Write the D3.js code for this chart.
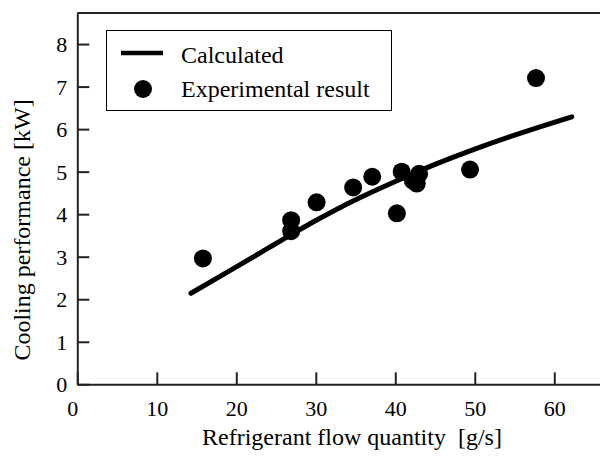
<!DOCTYPE html>
<html>
<head>
<meta charset="utf-8">
<script src="https://cdn.jsdelivr.net/npm/d3@7"></script>
<style>
  body { margin: 0; background: #fff; }
  svg text { font-family: "Liberation Serif", Tinos, "Times New Roman", Times, "DejaVu Serif", serif; fill: #000; }
</style>
</head>
<body>
<svg id="chart" width="600" height="456"></svg>
<script>
// Calculated curve (flow g/s, cooling kW)
const calcFlow = [14.3, 20, 25, 30, 35, 40, 45, 50, 55, 62.2];
const calcPerf = [2.14, 2.76, 3.31, 3.85, 4.34, 4.77, 5.17, 5.53, 5.86, 6.29];
// Experimental points
const expFlow = [15.8, 26.9, 26.9, 30.1, 34.7, 37.1, 40.2, 40.8, 42.2, 43.0, 42.7, 49.4, 57.7];
const expPerf = [2.96, 3.86, 3.60, 4.28, 4.63, 4.88, 4.02, 5.00, 4.79, 4.95, 4.72, 5.05, 7.20];
const xTicks = [0, 10, 20, 30, 40, 50, 60];
const yTicks = [0, 1, 2, 3, 4, 5, 6, 7, 8];
const legendLabels = ["Calculated", "Experimental result"];

const FONT = "'Liberation Serif', Tinos, 'Times New Roman', Times, 'DejaVu Serif', serif";
const svg = d3.select("#chart");
const x = d3.scaleLinear().domain([0, 65.75]).range([77.3, 600]);
const y = d3.scaleLinear().domain([0, 8.73]).range([384.3, 13]);

// frame
const axisColor = "#222";
svg.append("line").attr("x1", x(0)).attr("x2", 600).attr("y1", y(8.73)).attr("y2", y(8.73))
  .attr("stroke", axisColor).attr("stroke-width", 2);

const xAxis = svg.append("g").attr("transform", `translate(0,${y(0)})`)
  .call(d3.axisBottom(x).tickValues(xTicks).tickSizeInner(-12).tickSizeOuter(0).tickPadding(16).tickFormat(d3.format("d")));
const yAxis = svg.append("g").attr("transform", `translate(${x(0)},0)`)
  .call(d3.axisLeft(y).tickValues(yTicks).tickSizeInner(-12).tickSizeOuter(0).tickPadding(10).tickFormat(d3.format("d")));

[xAxis, yAxis].forEach(g => {
  g.attr("font-family", FONT).attr("font-size", 22);
  g.select(".domain").attr("stroke", axisColor).attr("stroke-width", 2);
  g.selectAll(".tick line").attr("stroke", axisColor).attr("stroke-width", 2);
  g.selectAll(".tick text").style("font-family", FONT).style("font-size", "22px").attr("fill", "#000");
});
xAxis.selectAll(".tick text").filter(d => d === 0).attr("dx", -5);
yAxis.selectAll(".tick text").attr("dy", "0.34em");

// calculated line
const pts = calcFlow.map((f, i) => [f, calcPerf[i]]);
svg.append("path").datum(pts)
  .attr("d", d3.line().x(d => x(d[0])).y(d => y(d[1])).curve(d3.curveCatmullRom))
  .attr("fill", "none").attr("stroke", "#000").attr("stroke-width", 5).attr("stroke-linecap", "round");

// experimental points
svg.append("g").selectAll("circle").data(expFlow.map((f, i) => [f, expPerf[i]]))
  .join("circle").attr("cx", d => x(d[0])).attr("cy", d => y(d[1])).attr("r", 9).attr("fill", "#000");

// legend
const lg = svg.append("g");
lg.append("rect").attr("x", 106.5).attr("y", 30.5).attr("width", 285).attr("height", 80)
  .attr("fill", "#fff").attr("stroke", "#000").attr("stroke-width", 1);
lg.append("line").attr("x1", 121).attr("x2", 163).attr("y1", 53).attr("y2", 53)
  .attr("stroke", "#000").attr("stroke-width", 4.5);
lg.append("circle").attr("cx", 143).attr("cy", 89).attr("r", 9).attr("fill", "#000");
lg.append("text").attr("x", 181).attr("y", 63).style("font-family", FONT).style("font-size", "24px").text(legendLabels[0]);
lg.append("text").attr("x", 181).attr("y", 97).style("font-family", FONT).style("font-size", "24px").text(legendLabels[1]);

// axis titles
svg.append("text").attr("x", 352).attr("y", 445).attr("text-anchor", "middle")
  .style("font-family", FONT).style("font-size", "24px").style("white-space", "pre")
  .text("Refrigerant flow quantity\u00a0 [g/s]");
svg.append("text").attr("transform", "translate(30,230) rotate(-90)").attr("text-anchor", "middle")
  .style("font-family", FONT).style("font-size", "24px").text("Cooling performance [kW]");
</script>
</body>
</html>
